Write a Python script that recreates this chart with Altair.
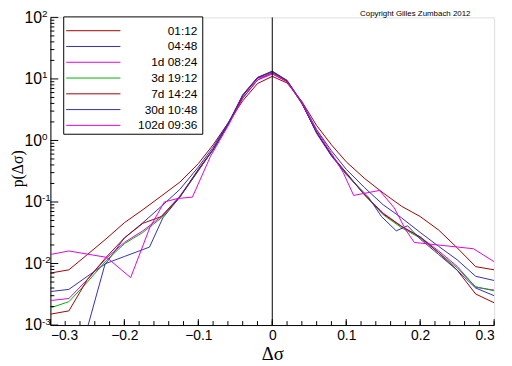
import altair as alt
import pandas as pd

series_names = ["01:12", "04:48", "1d 08:24", "3d 19:12", "7d 14:24", "30d 10:48", "102d 09:36"]
series_colors = ["#a00000", "#3030b0", "#e000e0", "#00b000", "#a00002", "#3030b2", "#e000e2"]

grid_x = [-0.3, -0.275, -0.25, -0.225, -0.2, -0.175, -0.15, -0.125, -0.1, -0.08, -0.06, -0.04,
          -0.02, 0.0, 0.02, 0.04, 0.06, 0.08, 0.1, 0.125, 0.15, 0.175, 0.2, 0.225, 0.25, 0.275, 0.3]

p_0112 = [0.0070, 0.0079, 0.0140, 0.025, 0.046, 0.075, 0.125, 0.21, 0.42, 0.85, 1.9, 4.4, 8.4, 11.0,
          8.6, 4.3, 1.75, 0.85, 0.45, 0.24, 0.14, 0.085, 0.058, 0.035, 0.018, 0.0089, 0.0079]
p_0448 = [0.0035, 0.0038, 0.0062, 0.0100, 0.026, 0.046, 0.085, 0.16, 0.37, 0.78, 1.9, 4.9, 9.6, 12.6,
          9.4, 4.2, 1.5, 0.68, 0.34, 0.17, 0.09, 0.055, 0.032, 0.019, 0.0115, 0.0062, 0.0053]
p_1d = [0.0025, 0.0027, 0.0055, 0.012, 0.022, 0.034, 0.058, 0.125, 0.33, 0.70, 1.8, 5.3, 10.2, 12.3,
        9.0, 4.0, 1.35, 0.58, 0.29, 0.13, 0.066, 0.040, 0.027, 0.016, 0.0090, 0.0041, 0.0037]
p_3d = [0.0019, 0.0024, 0.0050, 0.011, 0.021, 0.032, 0.055, 0.12, 0.33, 0.70, 1.8, 5.5, 10.5, 13.0,
        9.2, 4.0, 1.35, 0.57, 0.29, 0.13, 0.062, 0.038, 0.026, 0.015, 0.0085, 0.0042, 0.0036]
p_7d = [0.0015, 0.0017, 0.0055, 0.0125, 0.026, 0.045, 0.058, 0.12, 0.34, 0.72, 1.8, 5.3, 10.4, 13.2,
        9.3, 4.0, 1.35, 0.58, 0.30, 0.13, 0.064, 0.040, 0.027, 0.015, 0.0078, 0.0032, 0.0023]

x_30d = [-0.25, -0.226, -0.2, -0.166, -0.148, -0.125, -0.1, -0.08, -0.06, -0.04, -0.02, 0.0, 0.02, 0.04,
         0.06, 0.08, 0.1, 0.13, 0.1476, 0.1676, 0.183, 0.2, 0.225, 0.25, 0.275, 0.3]
p_30d = [0.0009, 0.0099, 0.013, 0.0185, 0.055, 0.12, 0.32, 0.72, 1.85, 5.5, 10.6, 13.4, 9.5, 4.1,
         1.3, 0.56, 0.28, 0.12, 0.058, 0.034, 0.041, 0.025, 0.014, 0.0078, 0.0040, 0.0030]

x_102d = [-0.3, -0.275, -0.224, -0.1915, -0.1657, -0.146, -0.128, -0.108, -0.0836, -0.06, -0.04, -0.02,
          0.0, 0.02, 0.04, 0.06, 0.08, 0.096, 0.11, 0.145, 0.165, 0.18, 0.192, 0.272, 0.3]
p_102d = [0.014, 0.016, 0.0126, 0.0059, 0.038, 0.10, 0.114, 0.12, 0.55, 1.7, 4.8, 9.6,
          12.0, 9.0, 4.1, 1.45, 0.62, 0.30, 0.128, 0.154, 0.08, 0.036, 0.022, 0.0174, 0.0107]

x_major = [-0.3, -0.2, -0.1, 0.0, 0.1, 0.2, 0.3]
x_minor = [round(-0.3 + 0.02 * i, 2) for i in range(31)]
y_major = [0.001, 0.01, 0.1, 1, 10, 100]
y_minor = [m * d for d in [0.001, 0.01, 0.1, 1, 10] for m in range(2, 10)]
zero_line = [0.0]
copyright_text = "Copyright Gilles Zumbach 2012"

xs = [grid_x, grid_x, grid_x, grid_x, grid_x, x_30d, x_102d]
ps = [p_0112, p_0448, p_1d, p_3d, p_7d, p_30d, p_102d]
rows = []
for k, (name, xv, pv) in enumerate(zip(series_names, xs, ps)):
    for j, (a, b) in enumerate(zip(xv, pv)):
        rows.append({"series": name, "k": k, "x": a, "p": b, "order": j})
df = pd.DataFrame(rows)

W, H = 450, 312
xscale = alt.Scale(domain=[-0.3, 0.3], nice=False, zero=False)
yscale = alt.Scale(type="log", domain=[0.001, 100], nice=False)
cscale = alt.Scale(domain=series_names, range=series_colors)

exp_expr = ("datum.value < 0.005 ? '-3' : datum.value < 0.05 ? '-2' : datum.value < 0.5 ? '-1' : "
            "datum.value < 5 ? '0' : datum.value < 50 ? '1' : '2'")

lines = alt.Chart(df).mark_line(strokeWidth=1, clip=True).encode(
    x=alt.X("x:Q", scale=xscale, axis=alt.Axis(
        orient="bottom", values=x_major, ticks=False, grid=False, domainColor="black", domainWidth=1,
        labelFont="Liberation Sans", labelFontSize=14, labelColor="black", labelPadding=4,
        labelExpr="datum.value == 0 ? '0' : format(datum.value, '.1f')",
        title="Δσ", titleFont="Liberation Serif", titleFontSize=19, titleFontWeight="normal",
        titleColor="black", titlePadding=2)),
    y=alt.Y("p:Q", scale=yscale, axis=alt.Axis(
        orient="left", values=y_major, ticks=False, grid=False, domainColor="black", domainWidth=1,
        labelFont="Liberation Sans", labelFontSize=16, labelColor="black", labelPadding=9,
        labelExpr="'10'", labelBaseline="middle",
        title="p(Δσ)", titleFont="Liberation Serif", titleFontSize=16, titleFontWeight="normal",
        titleColor="black", titleX=-25, titleY=153)),
    color=alt.Color("series:N", scale=cscale, legend=None),
    detail="k:N",
    order="order:Q",
)

exps = alt.Chart(pd.DataFrame({"p": y_major})).mark_point(opacity=0).encode(
    y=alt.Y("p:Q", scale=yscale, axis=alt.Axis(
        orient="left", values=y_major, ticks=False, domain=False, grid=False, title=None,
        labelExpr=exp_expr, labelAlign="left", labelPadding=9, labelBaseline="top", labelOffset=-9,
        labelFont="Liberation Sans", labelFontSize=10, labelColor="black")),
)

xt_major = alt.Chart(pd.DataFrame({"v": x_major})).mark_rule(color="black", strokeWidth=1).encode(
    x=alt.X("v:Q", scale=xscale, axis=None), y=alt.value(H), y2=alt.value(H - 6))
xt_minor = alt.Chart(pd.DataFrame({"v": x_minor})).mark_rule(color="black", strokeWidth=1).encode(
    x=alt.X("v:Q", scale=xscale, axis=None), y=alt.value(H), y2=alt.value(H - 4))
yt_major = alt.Chart(pd.DataFrame({"v": y_major})).mark_rule(color="black", strokeWidth=1).encode(
    y=alt.Y("v:Q", scale=yscale, axis=None), x=alt.value(0), x2=alt.value(8))
yt_minor = alt.Chart(pd.DataFrame({"v": y_minor})).mark_rule(color="black", strokeWidth=1).encode(
    y=alt.Y("v:Q", scale=yscale, axis=None), x=alt.value(0), x2=alt.value(4))

zero = alt.Chart(pd.DataFrame({"x": zero_line})).mark_rule(color="black", strokeWidth=1).encode(
    x=alt.X("x:Q", scale=xscale, axis=None))

copy = alt.Chart(pd.DataFrame({"t": [copyright_text]})).mark_text(
    font="Liberation Sans", fontSize=8, color="black", align="center", baseline="middle").encode(
    text="t:N", x=alt.value(370), y=alt.value(-3))

# legend built from the series lists
leg_df = pd.DataFrame({"series": series_names, "idx": list(range(len(series_names)))})
leg_y = alt.Y("idx:Q", scale=alt.Scale(domain=[0, 6], range=[13.5, 109.5]), axis=None)
leg_box = alt.Chart(pd.DataFrame({"a": [0]})).mark_rect(fill="white", stroke="black", strokeWidth=1).encode(
    x=alt.value(13.5), x2=alt.value(154.5), y=alt.value(-0.5), y2=alt.value(118.5))
leg_lines = alt.Chart(leg_df).mark_rule(strokeWidth=1).encode(
    x=alt.value(16), x2=alt.value(71), y=leg_y,
    color=alt.Color("series:N", scale=cscale, legend=None))
leg_text = alt.Chart(leg_df).mark_text(
    font="Liberation Sans", fontSize=12, color="black", align="right", baseline="middle").encode(
    x=alt.value(149), y=leg_y, text="series:N")

chart = alt.layer(lines, exps, zero, xt_major, xt_minor, yt_major, yt_minor, copy,
                  leg_box, leg_lines, leg_text).resolve_scale(
    y="independent").resolve_axis(x="independent", y="independent").properties(
    width=W, height=H, autosize=alt.AutoSizeParams(type="none"),
    padding={"left": 43, "top": 7, "right": 10, "bottom": 39},
).configure_view(stroke=None).configure(background="white")

chart.save("out.html", embed_options={"renderer": "svg", "actions": False})
